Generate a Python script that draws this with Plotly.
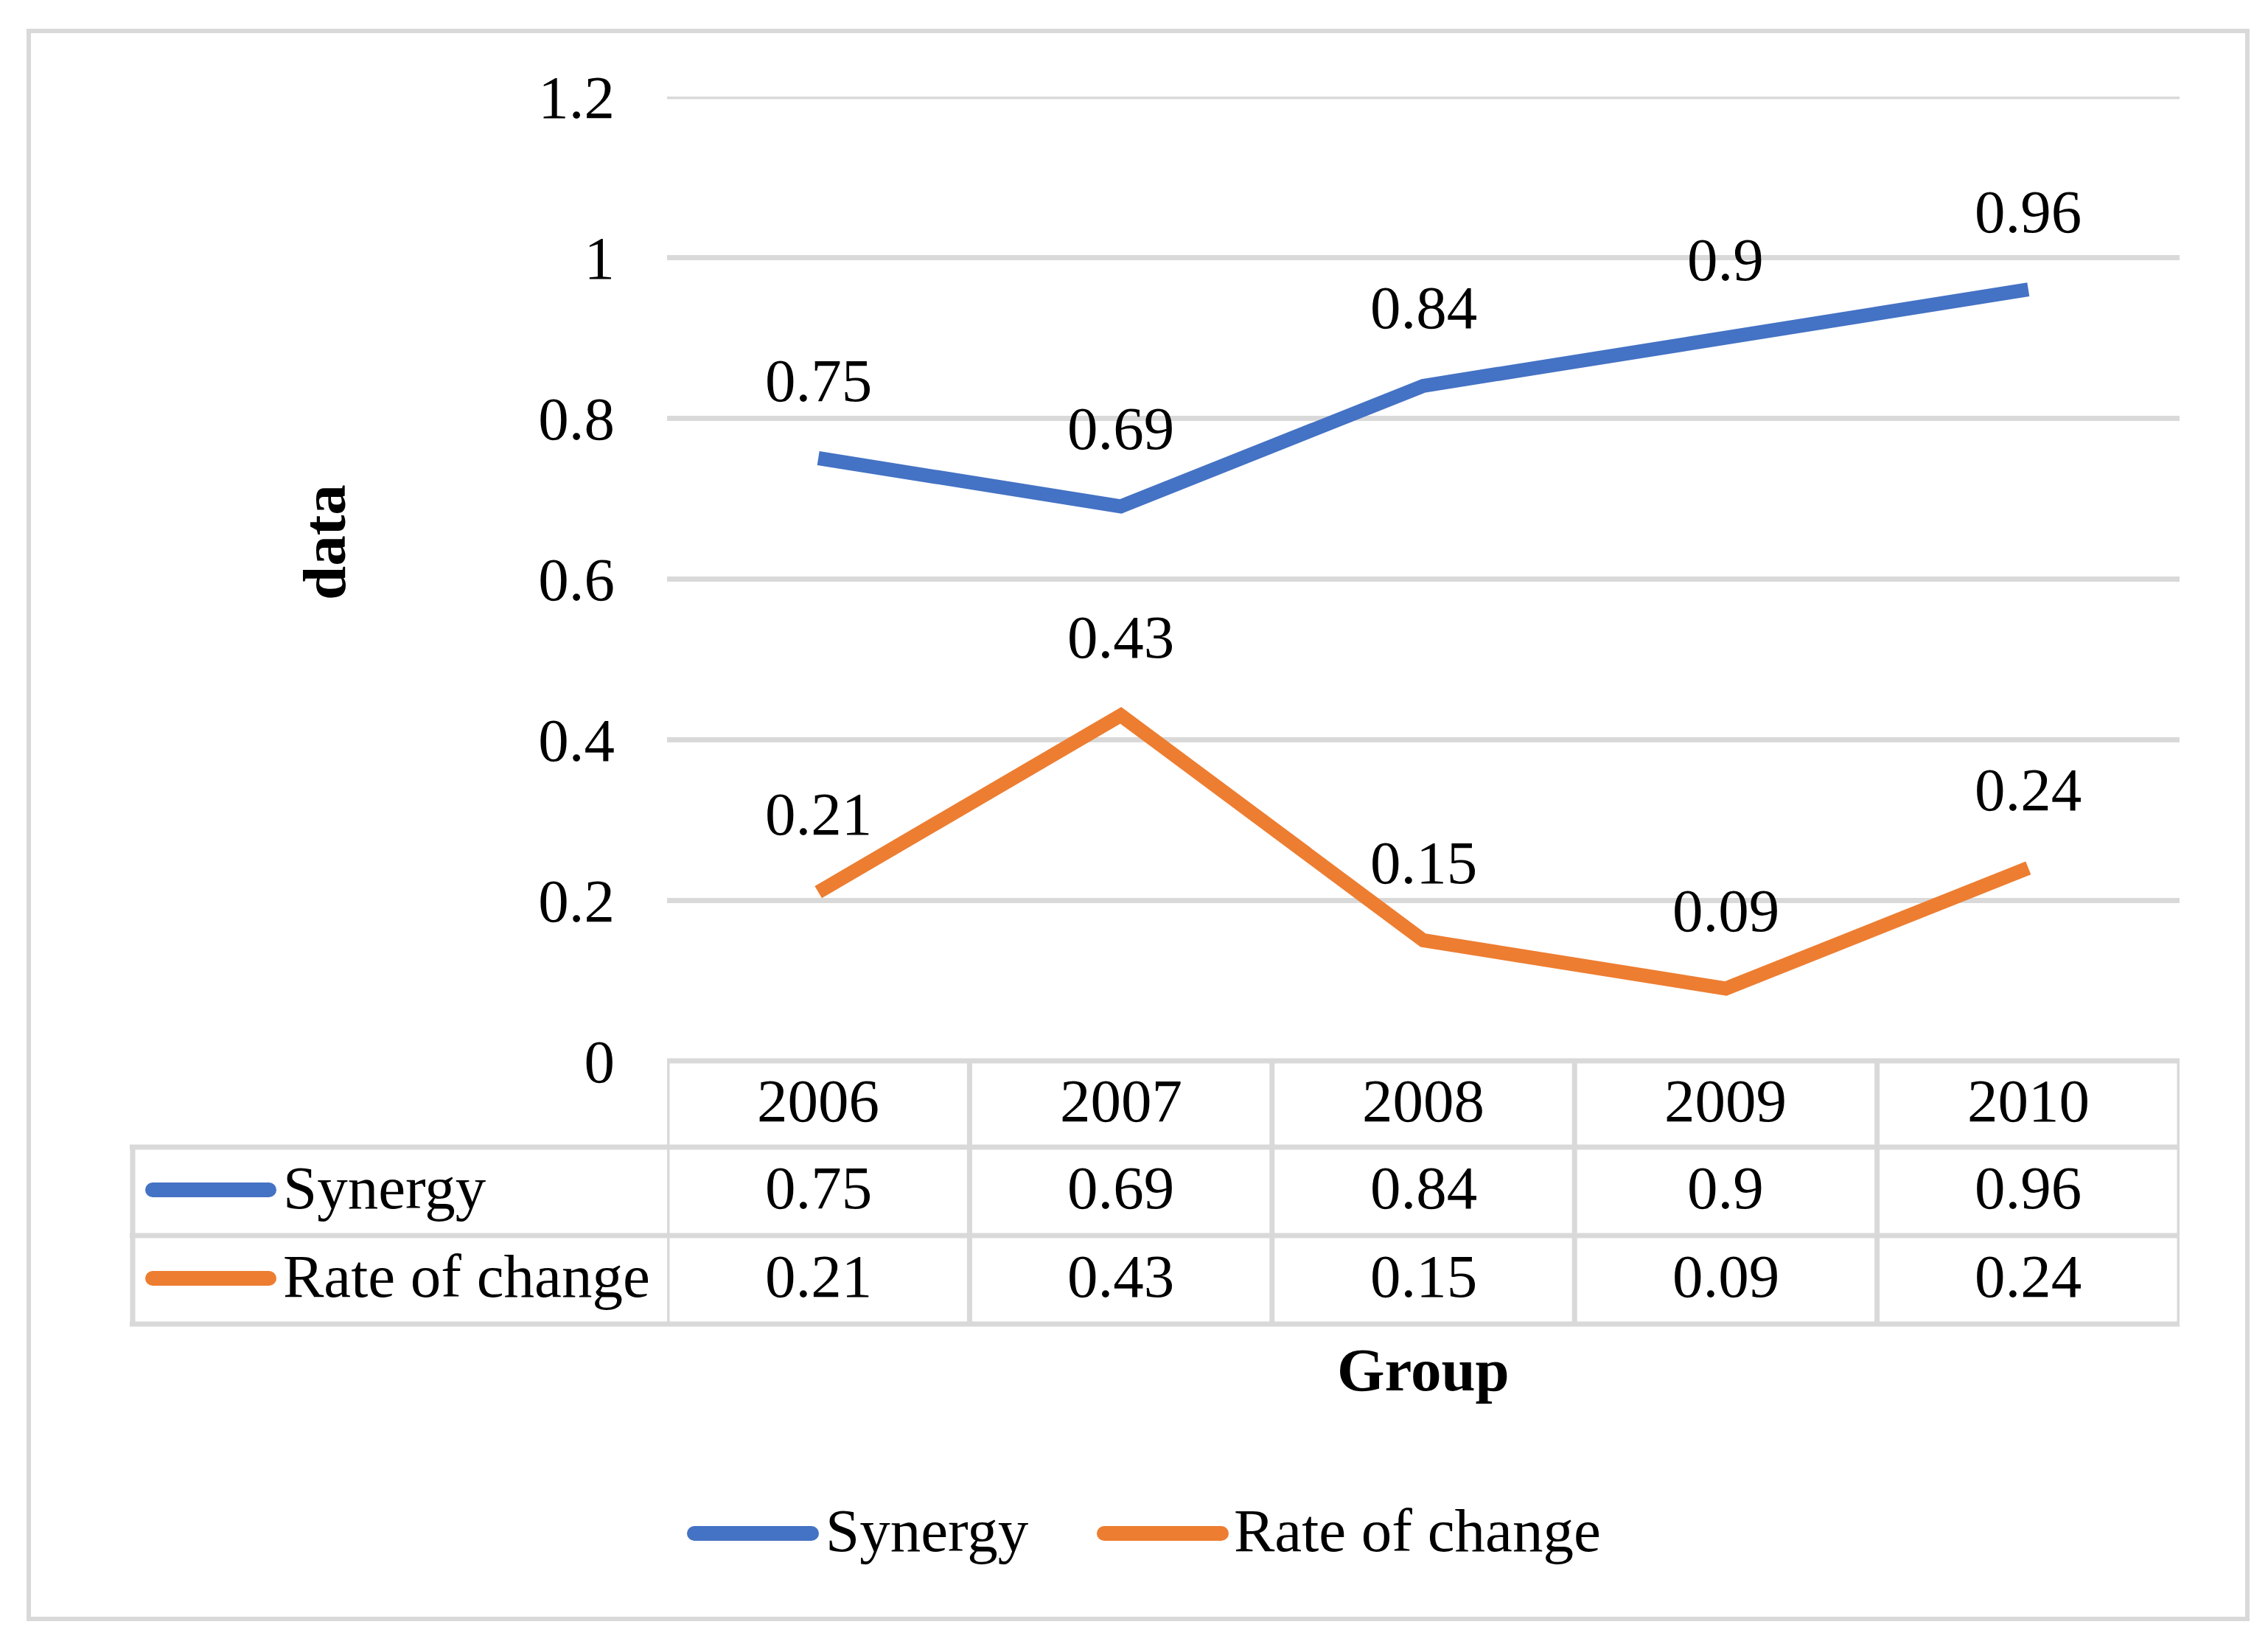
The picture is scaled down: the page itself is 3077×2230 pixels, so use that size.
import plotly.graph_objects as go

# ---- data ----
years = ["2006", "2007", "2008", "2009", "2010"]
synergy = [0.75, 0.69, 0.84, 0.90, 0.96]
rate_of_change = [0.21, 0.43, 0.15, 0.09, 0.24]
series_names = ["Synergy", "Rate of change"]
y_ticks = [0, 0.2, 0.4, 0.6, 0.8, 1.0, 1.2]
y_tick_labels = ["0", "0.2", "0.4", "0.6", "0.8", "1", "1.2"]

BLUE = "#4472C4"
ORANGE = "#ED7D31"
GRID = "#D9D9D9"
FONT = "Liberation Serif"
FS = 83

OFF = 8  # page body margin compensation
W, H = 3077 - OFF, 2230 - OFF
# plot area in reference pixel coordinates
L, R, T, B = 905, 2957, 131, 1439
PW, PH = R - L, B - T


def px(xp):
    return (xp - L) / PW


def py(yp):
    return (B - yp) / PH


fig = go.Figure()
series = [synergy, rate_of_change]
colors = [BLUE, ORANGE]
for name, vals, col in zip(series_names, series, colors):
    fig.add_trace(go.Scatter(
        x=years, y=vals, mode="lines", name=name,
        line=dict(color=col, width=19), showlegend=False,
        hoverinfo="skip",
    ))

annotations = []
shapes = []

# top gridline (at the range edge)
shapes.append(dict(type="line", xref="paper", yref="y", x0=0, x1=1,
                   y0=y_ticks[-1], y1=y_ticks[-1], line=dict(color=GRID, width=7),
                   layer="below"))

# data labels above points
for vals in series:
    for i, v in enumerate(vals):
        annotations.append(dict(
            x=i, y=v, xref="x", yref="y", text=f"{v:g}", showarrow=False,
            xanchor="center", yanchor="middle", yshift=106,
            font=dict(family=FONT, size=FS, color="black"),
        ))

# ---- data table ----
row_y = [1439, 1556, 1676, 1796]
TXT_UP = 5
line_w = 7
shapes.append(dict(type="line", xref="x", yref="paper", x0=-0.5, x1=len(years) - 0.5,
                   y0=py(row_y[0]), y1=py(row_y[0]), line=dict(color=GRID, width=line_w)))
for ry in row_y[1:]:
    shapes.append(dict(type="line", xref="paper", yref="paper", x0=px(176), x1=1,
                       y0=py(ry), y1=py(ry), line=dict(color=GRID, width=line_w)))
for k in range(len(years) + 1):
    shapes.append(dict(type="line", xref="x", yref="paper", x0=k - 0.5, x1=k - 0.5,
                       y0=py(row_y[0]) + 0.002, y1=py(row_y[-1]) - 0.002,
                       line=dict(color=GRID, width=line_w)))
shapes.append(dict(type="line", xref="paper", yref="paper", x0=px(180), x1=px(180),
                   y0=py(row_y[1]) + 0.002, y1=py(row_y[-1]) - 0.002,
                   line=dict(color=GRID, width=line_w)))

hdr_y = py((row_y[0] + row_y[1]) / 2 - TXT_UP)
for i, yr in enumerate(years):
    annotations.append(dict(x=i, y=hdr_y, xref="x", yref="paper", text=yr,
                            showarrow=False, xanchor="center", yanchor="middle",
                            font=dict(family=FONT, size=FS, color="black")))
for r, (name, vals, col) in enumerate(zip(series_names, series, colors)):
    cyp = (row_y[r + 1] + row_y[r + 2]) / 2
    cy = py(cyp - TXT_UP)
    shapes.append(dict(type="line", xref="paper", yref="paper", x0=px(207), x1=px(365),
                       y0=py(cyp - 2), y1=py(cyp - 2),
                       line=dict(color=col, width=20)))
    for xc in (207, 365):
        shapes.append(dict(type="circle", xref="paper", yref="paper",
                           x0=px(xc - 10), x1=px(xc + 10), y0=py(cyp + 8), y1=py(cyp - 12),
                           fillcolor=col, line=dict(width=0)))
    annotations.append(dict(x=px(382), y=cy, xref="paper", yref="paper", text=name,
                            showarrow=False, xanchor="left", yanchor="middle",
                            font=dict(family=FONT, size=FS, color="black")))
    for i, v in enumerate(vals):
        annotations.append(dict(x=i, y=cy, xref="x", yref="paper", text=f"{v:g}",
                                showarrow=False, xanchor="center", yanchor="middle",
                                font=dict(family=FONT, size=FS, color="black")))

# axis titles
annotations.append(dict(x=0.5, y=py(1858), xref="paper", yref="paper", text="<b>Group</b>",
                        showarrow=False, xanchor="center", yanchor="middle",
                        font=dict(family=FONT, size=FS, color="black")))
annotations.append(dict(x=px(440), y=py(736), xref="paper", yref="paper", text="<b>data</b>",
                        showarrow=False, xanchor="center", yanchor="middle", textangle=-90,
                        font=dict(family=FONT, size=FS, color="black")))

# bottom legend
leg_y = py(2080)
leg_items = [(series_names[0], BLUE, 942, 1101, 1118), (series_names[1], ORANGE, 1498, 1657, 1672)]
for name, col, x0, x1, tx in leg_items:
    shapes.append(dict(type="line", xref="paper", yref="paper", x0=px(x0), x1=px(x1),
                       y0=leg_y, y1=leg_y, line=dict(color=col, width=20)))
    for xc in (x0, x1):
        shapes.append(dict(type="circle", xref="paper", yref="paper",
                           x0=px(xc - 10), x1=px(xc + 10), y0=py(2070), y1=py(2090),
                           fillcolor=col, line=dict(width=0)))
    annotations.append(dict(x=px(tx), y=py(2076), xref="paper", yref="paper", text=name,
                            showarrow=False, xanchor="left", yanchor="middle",
                            font=dict(family=FONT, size=FS, color="black")))

# outer border
shapes.append(dict(type="rect", xref="paper", yref="paper", x0=px(39), x1=px(3049),
                   y0=py(42), y1=py(2196), line=dict(color=GRID, width=6)))

fig.update_layout(
    width=W, height=H,
    margin=dict(l=L - OFF, r=(W + OFF) - R, t=T - OFF, b=(H + OFF) - B, pad=0),
    paper_bgcolor="white", plot_bgcolor="white",
    font=dict(family=FONT, size=FS, color="black"),
    xaxis=dict(type="category", range=[-0.5, len(years) - 0.5], showticklabels=False,
               showgrid=False, zeroline=False, showline=False, ticks=""),
    yaxis=dict(range=[0, 1.2], tickvals=y_ticks, ticktext=y_tick_labels,
               showgrid=True, gridcolor=GRID, gridwidth=7, zeroline=False, showline=False,
               ticks="", ticklabelstandoff=70,
               tickfont=dict(family=FONT, size=FS, color="black")),
    annotations=annotations, shapes=shapes, showlegend=False,
)

fig.write_html("out.html")
